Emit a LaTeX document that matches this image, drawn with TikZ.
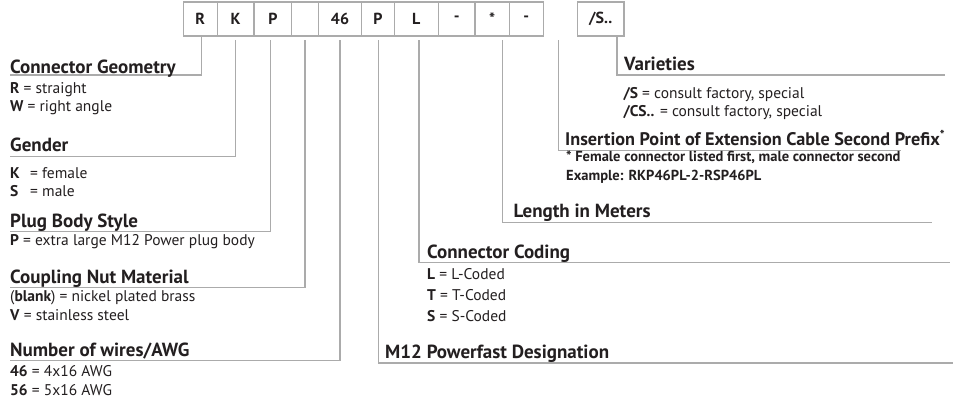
\documentclass[tikz,border=0pt]{standalone}
\usepackage{fontspec}
\setmainfont{PT Sans}
\definecolor{ink}{HTML}{231F20}
\definecolor{rulegray}{HTML}{ABABAB}
\begin{document}
\begin{tikzpicture}[x=1pt,y=-1pt,
  cell/.style={draw=rulegray,line width=1.1pt,minimum height=34pt,inner sep=0pt,
    font=\bfseries\fontsize{16}{18}\selectfont,text=ink},
  lead/.style={draw=rulegray,line width=1.2pt},
  head/.style={anchor=base west,inner sep=0pt,text=ink,font=\bfseries\fontsize{19}{22}\selectfont},
  body/.style={anchor=base west,inner sep=0pt,text=ink,font=\fontsize{15.5}{18}\selectfont},
  note/.style={anchor=base west,inner sep=0pt,text=ink,font=\bfseries\fontsize{14.5}{17}\selectfont}]
\useasboundingbox (0,0) rectangle (955,402);
\fill[white] (0,0) rectangle (955,402);
% code boxes
\node[cell,minimum width=34pt]   (b1)  at (200.3,19) {R};
\node[cell,minimum width=36.7pt] (b2)  at (235.65,19) {K};
\node[cell,minimum width=37.7pt] (b3)  at (272.85,19) {P};
\node[cell,minimum width=26.6pt] (b4)  at (305,19) {};
\node[cell,minimum width=43.4pt] (b5)  at (340,19) {46};
\node[cell,minimum width=32.6pt] (b6)  at (378,19) {P};
\node[cell,minimum width=44pt]   (b7)  at (416.3,19) {L};
\node[cell,minimum width=36.7pt] (b8)  at (456.65,19) {-};
\node[cell,minimum width=34.3pt] (b9)  at (492.15,19) {*};
\node[cell,minimum width=34pt]   (b10) at (526.3,19) {-};
\node[cell,minimum width=46.7pt] (b11) at (600.65,19) {/S..};
% end points of leads
\coordinate (e1) at (10,75);
\coordinate (e2) at (10,156.7);
\coordinate (e3) at (10,231.7);
\coordinate (e4) at (10,287.3);
\coordinate (e5) at (10,360.7);
\coordinate (e6) at (953,363);
\coordinate (e7) at (950,262.5);
\coordinate (e8) at (931.7,222.7);
\coordinate (e9) at (901,150.7);
\coordinate (e10) at (945,75);
% leads
\draw[lead] ([xshift=1.4pt]b1.south) |- (e1);
\draw[lead] ([yshift=-3.5pt]b2.south) |- (e2);
\draw[lead] ([xshift=-2pt,yshift=-3.5pt]b3.south) |- (e3);
\draw[lead] ([yshift=-3.5pt]b4.south) |- (e4);
\draw[lead] ([yshift=-3.5pt]b5.south) |- (e5);
\draw[lead] ([xshift=0.3pt,yshift=-3.5pt]b6.south) |- (e6);
\draw[lead] ([xshift=2.7pt,yshift=-3.5pt]b7.south) |- (e7);
\draw[lead] ([xshift=10pt,yshift=-3.5pt]b9.south) |- (e8);
\draw[lead] ([xshift=15pt,yshift=-3.5pt]b10.south east) |- (e9);
\draw[lead] ([xshift=16.3pt]b11.south) |- (e10);
% left texts
\node[head] (h1) at (10,73) {Connector Geometry};
\node[body] (t1a) at (10,93) {\textbf{R} = straight};
\node[body] (t1b) at (10,111) {\textbf{W} = right angle};
\node[head] (h2) at (10,151) {Gender};
\node[body] (t2a) at (10,178) {\makebox[20pt][l]{\textbf{K}}= female};
\node[body] (t2b) at (10,196) {\makebox[20pt][l]{\textbf{S}}= male};
\node[head] (h3) at (10,227.5) {Plug Body Style};
\node[body] (t3a) at (10,245) {\textbf{P} = extra large M12 Power plug body};
\node[head] (h4) at (10,283) {Coupling Nut Material};
\node[body] (t4a) at (10,301.7) {(\textbf{blank}) = nickel plated brass};
\node[body] (t4b) at (10,320.5) {\textbf{V} = stainless steel};
\node[head] (h5) at (10,356) {Number of wires/AWG};
\node[body] (t5a) at (10,376) {\textbf{46} = 4x16 AWG};
\node[body] (t5b) at (10,395) {\textbf{56} = 5x16 AWG};
% right texts
\node[head] (h10) at (624,70.5) {Varieties};
\node[body] (t10a) at (623.3,98.3) {\textbf{/S} = consult factory, special};
\node[body] (t10b) at (623.3,116) {\textbf{/CS..} = consult factory, special};
\node[head,font=\bfseries\fontsize{18.2}{21}\selectfont] (h9) at (565,145.5) {Insertion Point of Extension Cable Second Prefix\textsuperscript{*}};
\node[note] (t9a) at (566,161.7) {* Female connector listed first, male connector second};
\node[note] (t9b) at (566,180) {Example: RKP46PL-2-RSP46PL};
\node[head] (h8) at (513.3,217) {Length in Meters};
\node[head] (h7) at (427,258) {Connector Coding};
\node[body] (t7a) at (427,279) {\textbf{L} = L-Coded};
\node[body] (t7b) at (427,300) {\textbf{T} = T-Coded};
\node[body] (t7c) at (427,321) {\textbf{S} = S-Coded};
\node[head] (h6) at (385,358.5) {M12 Powerfast Designation};
\end{tikzpicture}
\end{document}
